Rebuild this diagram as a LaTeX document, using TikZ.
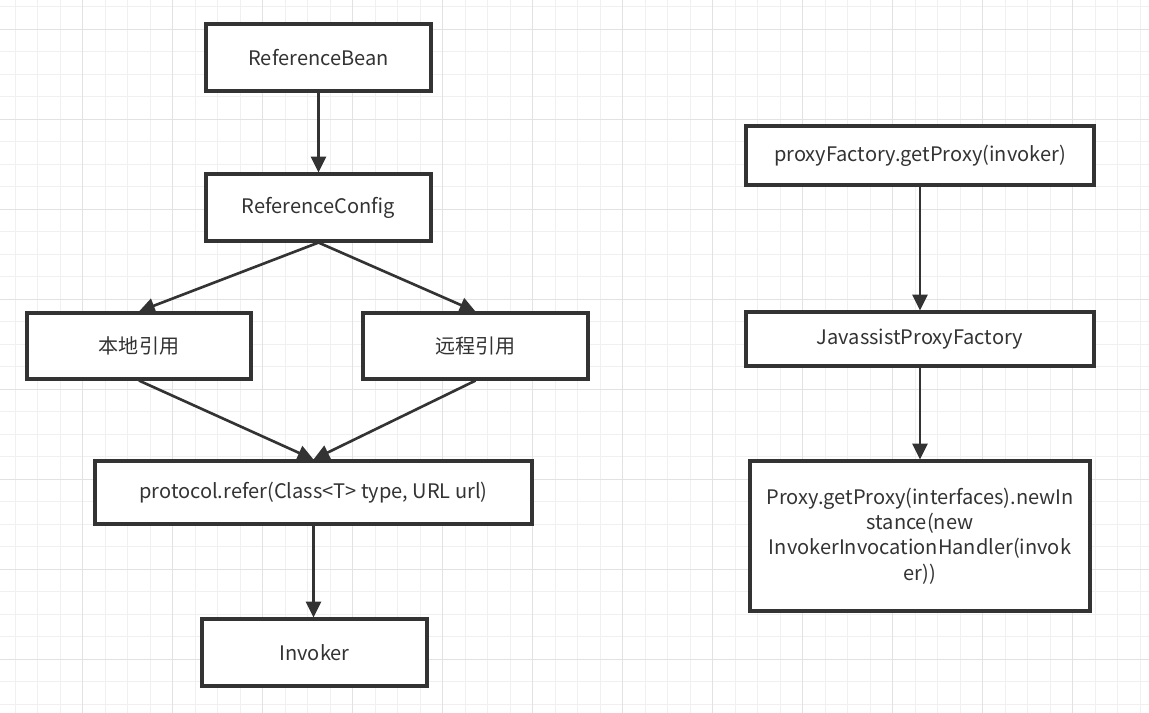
\documentclass[tikz,border=0pt]{standalone}
\usepackage{fontspec}
\setmainfont{Noto Sans CJK SC}
\usetikzlibrary{arrows.meta}
\definecolor{linegray}{HTML}{333333}
\definecolor{gridminor}{HTML}{F0F0F0}
\definecolor{gridmajor}{HTML}{E2E2E2}

\begin{document}
\begin{tikzpicture}[x=0.02cm, y=-0.02cm,
  box/.style={draw=linegray, line width=1.8pt, fill=white, text=linegray,
    font=\fontsize{11.4}{14.5}\selectfont, inner sep=2pt},
  flow/.style={draw=linegray, line width=1.5pt,
    -{Triangle[length=9pt,width=8.5pt]}}]
  \useasboundingbox (0,0) rectangle (1149,713);
  \fill[white] (0,0) rectangle (1149,713);

  % background grid
  \foreach \i in {0, 1, ..., 50}
    \draw[gridminor, line width=0.7pt] ({15.2+22.5*\i}, 0) -- +(0, 713);
  \foreach \i in {0, 1, ..., 31}
    \draw[gridminor, line width=0.7pt] (0, {6.8+22.5*\i}) -- +(1149, 0);
  \foreach \i in {0, 1, ..., 11}
    \draw[gridmajor, line width=0.7pt] ({82.7+90*\i}, 0) -- +(0, 713);
  \foreach \i in {0, 1, ..., 7}
    \draw[gridmajor, line width=0.7pt] (0, {29.3+90*\i}) -- +(1149, 0);

  % left column
  \node[box, minimum width=4.5cm, minimum height=1.34cm] (bean) at (318.5, 57.5) {ReferenceBean};
  \node[box, minimum width=4.5cm, minimum height=1.34cm] (config) at (318.5, 207.5) {ReferenceConfig};
  \node[box, minimum width=4.48cm, minimum height=1.32cm] (local) at (139, 346) {本地引用};
  \node[box, minimum width=4.5cm, minimum height=1.32cm] (remote) at (475.5, 346) {远程引用};
  \node[box, minimum width=8.74cm, minimum height=1.26cm] (refer) at (313.5, 492.5) {protocol.refer(Class<T> type, URL url)};
  \node[box, minimum width=4.5cm, minimum height=1.34cm] (invoker) at (314.5, 652.5) {Invoker};

  % right column
  \node[box, minimum width=6.96cm, minimum height=1.18cm] (getproxy) at (920, 155.5) {proxyFactory.getProxy(invoker)};
  \node[box, minimum width=6.96cm, minimum height=1.08cm] (javassist) at (920, 339) {JavassistProxyFactory};
  \node[box, minimum width=6.8cm, minimum height=3cm, align=center] (newinst) at (920, 536)
    {Proxy.getProxy(interfaces).newIn\\stance(new\\InvokerInvocationHandler(invok\\er))};

  \draw[flow] (bean) -- (config);
  \draw[flow] (config.south) -- (local.north);
  \draw[flow] (config.south) -- (remote.north);
  \draw[flow] (local.south) -- (refer.north);
  \draw[flow] (remote.south) -- (refer.north);
  \draw[flow] (refer.south) -- (refer.south |- invoker.north);
  \draw[flow] (getproxy) -- (javassist);
  \draw[flow] (javassist) -- (newinst);
\end{tikzpicture}
\end{document}
